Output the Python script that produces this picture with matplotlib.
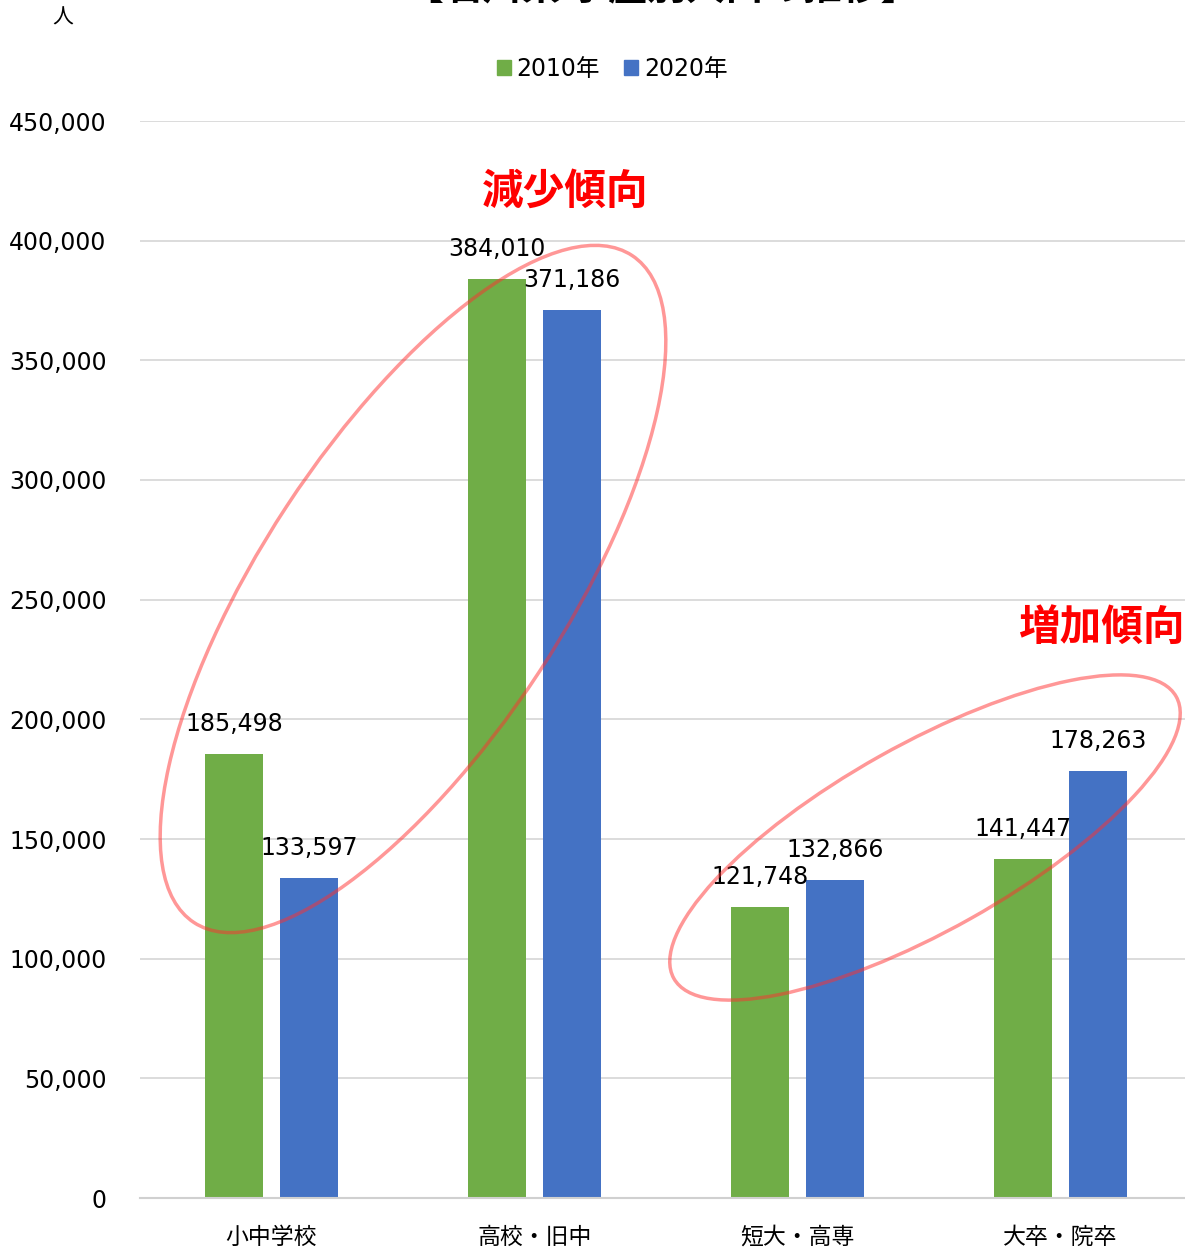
import numpy as np
import matplotlib
matplotlib.use("Agg")
import matplotlib.pyplot as plt
from matplotlib.patches import Ellipse, Patch
from matplotlib.ticker import FuncFormatter

# ---- data ----
categories = ["小中学校", "高校・旧中", "短大・高専", "大卒・院卒"]
pop_2010 = [185498, 384010, 121748, 141447]
pop_2020 = [133597, 371186, 132866, 178263]
series_names = ["2010年", "2020年"]
yticks = np.arange(0, 450001, 50000)

GREEN = "#70AD47"
BLUE = "#4472C4"
JP = ["Noto Sans CJK JP", "DejaVu Sans"]
NUM = ["DejaVu Sans", "Noto Sans CJK JP"]

W, H, DPI = 1185, 1252, 100
fig = plt.figure(figsize=(W / DPI, H / DPI), dpi=DPI)
ax = fig.add_axes([140 / W, 54 / H, 1052 / W, 1077 / H])

x = np.arange(len(categories))
bw = 0.22
off = 0.1426
b1 = ax.bar(x - off, pop_2010, bw, color=GREEN, label=series_names[0], zorder=2)
b2 = ax.bar(x + off, pop_2020, bw, color=BLUE, label=series_names[1], zorder=2)

for bars, vals in ((b1, pop_2010), (b2, pop_2020)):
    for r, v in zip(bars, vals):
        ax.annotate(f"{v:,}", (r.get_x() + r.get_width() / 2, v),
                    xytext=(0, 21.6), textcoords="offset points",
                    ha="center", va="center", fontsize=17, family=NUM,
                    color="#000000", zorder=5)

ax.set_xlim(-0.5, 3.5)
ax.set_ylim(0, 450000)
ax.set_yticks(yticks)
ax.yaxis.set_major_formatter(FuncFormatter(lambda v, p: f"{int(v):,}"))
ax.set_xticks(x)
ax.set_xticklabels(categories, family=JP, fontsize=16.5)
for lab in ax.get_yticklabels():
    lab.set_family(NUM)
    lab.set_fontsize(17)
ax.tick_params(axis="y", length=0, pad=24)
ax.tick_params(axis="x", length=0, pad=20)
ax.grid(True, axis="y", color="#D9D9D9", linewidth=1.3, zorder=0)
ax.set_axisbelow(True)
for s in ("top", "right", "left"):
    ax.spines[s].set_visible(False)
ax.spines["bottom"].set_color("#D0D0D0")
ax.spines["bottom"].set_linewidth(1.5)

# legend
handles = [Patch(color=GREEN), Patch(color=BLUE)]
fig.legend(handles, series_names, loc="center", bbox_to_anchor=(612 / W, 1 - 69 / H),
           ncol=2, frameon=False, prop={"family": NUM, "size": 17},
           handlelength=0.6, handleheight=0.6, handletextpad=0.25, columnspacing=1.0)

# title (runs off the top edge) and unit
fig.text(662 / W, 1 + 11 / H, "【石川県 学歴別人口の推移】", ha="center", va="center",
         fontsize=28, fontweight="bold", family=JP)
fig.text(63 / W, 1 - 18 / H, "人", ha="center", va="center", fontsize=15, family=JP)

# trend callouts
fig.text(565 / W, 1 - 192 / H, "減少傾向", ha="center", va="center", fontsize=30,
         fontweight="bold", color="#FF0000", family=JP)
fig.text(1101 / W, 1 - 628 / H, "増加傾向", ha="center", va="center", fontsize=30,
         fontweight="bold", color="#FF0000", family=JP)

for cx, cy, w, h, ang in ((413, 589, 798, 302, 56.7), (925, 837.5, 576, 186, 29.3)):
    e = Ellipse((cx / DPI, (H - cy) / DPI), w / DPI, h / DPI, angle=ang,
                transform=fig.dpi_scale_trans, fill=False, edgecolor="#FF3030",
                alpha=0.5, linewidth=2.5, zorder=10)
    fig.add_artist(e)

fig.savefig("out.png", dpi=DPI)
